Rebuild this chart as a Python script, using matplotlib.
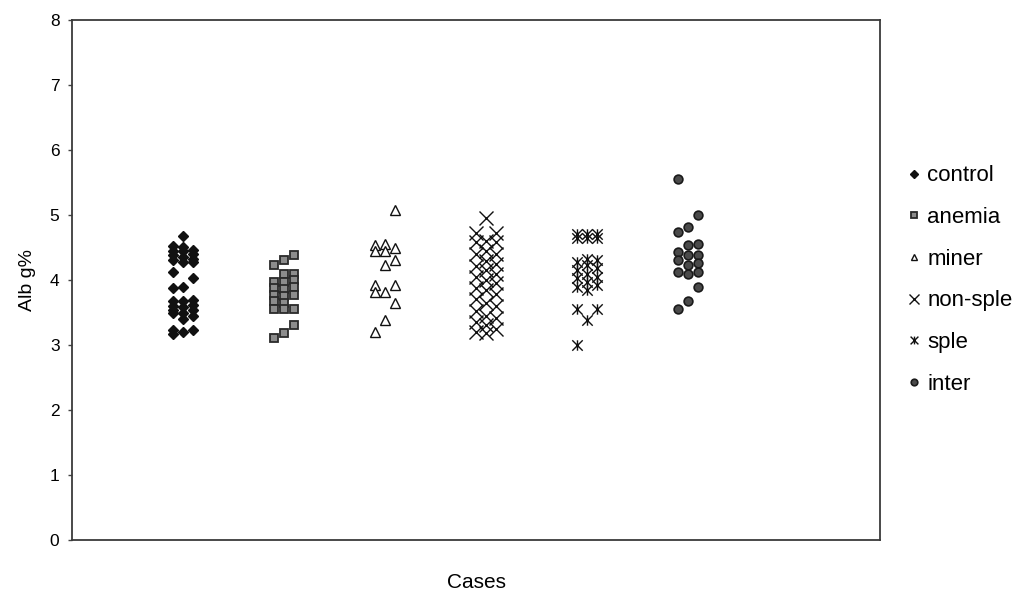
import matplotlib
matplotlib.use("Agg")
import matplotlib.pyplot as plt
from matplotlib.path import Path

plt.rcParams["font.family"] = ["Liberation Sans", "DejaVu Sans"]

# Albumin (g%) per case group; x = group number plus a small column shift
control_x = [1.0] * 12 + [1.1] * 11 + [1.2] * 10
control_y = [4.52, 4.45, 4.38, 4.31, 4.13, 3.87, 3.67, 3.60, 3.54, 3.49, 3.23, 3.17,
             4.67, 4.51, 4.44, 4.36, 4.28, 3.90, 3.67, 3.59, 3.49, 3.40, 3.20,
             4.46, 4.40, 4.33, 4.27, 4.03, 3.69, 3.62, 3.54, 3.44, 3.23]

anemia_x = [2.0] * 7 + [2.1] * 8 + [2.2] * 7
anemia_y = [4.23, 3.97, 3.87, 3.77, 3.67, 3.56, 3.10,
            4.31, 4.10, 3.97, 3.86, 3.75, 3.65, 3.55, 3.18,
            4.38, 4.10, 4.00, 3.90, 3.77, 3.56, 3.31]

miner_x = [3.2, 3.0, 3.1, 3.0, 3.1, 3.2, 3.2, 3.1, 3.0, 3.2, 3.0, 3.1, 3.2, 3.1, 3.0]
miner_y = [5.08, 4.54, 4.56, 4.44, 4.44, 4.49, 4.31, 4.23, 3.92, 3.92, 3.81, 3.81,
           3.64, 3.38, 3.20]

nonsple_x = [4.0] * 10 + [4.2] * 10 + [4.1] * 11
nonsple_y = [4.72, 4.58, 4.40, 4.22, 4.05, 3.88, 3.70, 3.52, 3.35, 3.20,
             4.72, 4.58, 4.40, 4.25, 4.10, 3.95, 3.78, 3.60, 3.42, 3.25,
             4.95, 4.60, 4.45, 4.30, 4.15, 4.00, 3.85, 3.65, 3.45, 3.30, 3.18]

sple_x = [5.0, 5.1, 5.2, 5.0, 5.1, 5.2,
          5.0, 5.0, 5.0, 5.0, 5.1, 5.1, 5.1, 5.1, 5.1, 5.2, 5.2, 5.2, 5.2,
          5.0, 5.2, 5.1, 5.0]
sple_y = [4.71, 4.71, 4.71, 4.64, 4.64, 4.64,
          4.28, 4.15, 4.03, 3.90, 4.33, 4.23, 4.10, 3.97, 3.85, 4.31, 4.18, 4.05, 3.92,
          3.56, 3.56, 3.38, 3.00]

inter_x = [6.0, 6.2, 6.0, 6.1, 6.1, 6.2, 6.0, 6.0, 6.0, 6.1, 6.1, 6.1, 6.2, 6.2, 6.2,
           6.2, 6.1, 6.0]
inter_y = [5.56, 5.00, 4.74, 4.82, 4.54, 4.55, 4.43, 4.31, 4.13, 4.38, 4.23, 4.10,
           4.38, 4.26, 4.13, 3.90, 3.67, 3.56]

labels = ["control", "anemia", "miner", "non-sple", "sple", "inter"]

# asterisk marker: an X crossed by a vertical stroke
star = Path([(-1, -1), (1, 1), (-1, 1), (1, -1), (0, -1), (0, 1)],
            [Path.MOVETO, Path.LINETO, Path.MOVETO, Path.LINETO, Path.MOVETO, Path.LINETO])

fig = plt.figure(figsize=(10.27, 5.96), dpi=100)
ax = fig.add_axes([0.0701, 0.094, 0.7868, 0.8724])

ax.plot(control_x, control_y, ls="none", marker="D", ms=5.2, mfc="#111111", mec="#111111",
        label=labels[0])
ax.plot(anemia_x, anemia_y, ls="none", marker="s", ms=6.3, mfc="#8c8c8c", mec="#2a2a2a",
        mew=1.3, label=labels[1])
ax.plot(miner_x, miner_y, ls="none", marker="^", ms=6.6, mfc="white", mec="#111111",
        mew=1.0, label=labels[2])
ax.plot(nonsple_x, nonsple_y, ls="none", marker="x", ms=9.5, mec="#111111", mew=1.0,
        label=labels[3])
ax.plot(sple_x, sple_y, ls="none", marker=star, ms=7.5, mec="#111111", mew=1.0,
        label=labels[4])
ax.plot(inter_x, inter_y, ls="none", marker="o", ms=6.3, mfc="#4a4a4a", mec="#1a1a1a",
        mew=1.2, label=labels[5])

ax.set_xlim(0, 8)
ax.set_ylim(0, 8)
ax.set_xticks([])
ax.set_yticks(range(0, 9))
ax.tick_params(axis="y", direction="out", length=3, width=1, labelsize=12.5, pad=6,
               color="#444444")
for s in ax.spines.values():
    s.set_color("#3a3a3a")
    s.set_linewidth(1.3)

ax.set_ylabel("Alb g%", fontsize=14, labelpad=10)
ax.set_xlabel("Cases", fontsize=15, labelpad=24)

fig.legend(loc="center left", bbox_to_anchor=(0.876, 0.530), frameon=False,
           fontsize=16, markerscale=0.75, handlelength=0.5, handletextpad=0.35,
           labelspacing=0.93, borderaxespad=0)

fig.savefig("out.png", dpi=100)
